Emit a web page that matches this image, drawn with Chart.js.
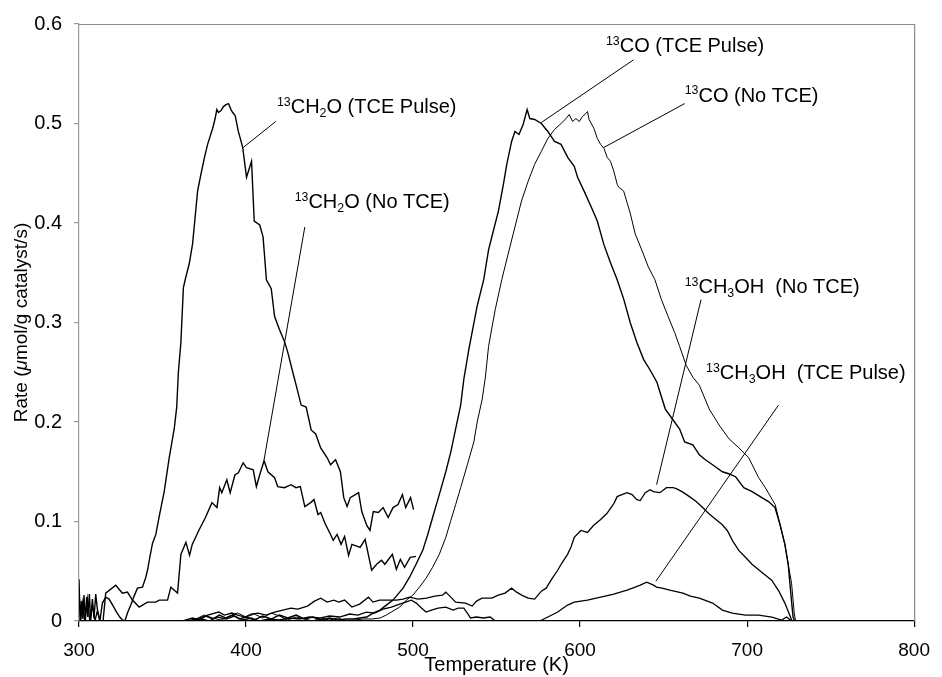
<!DOCTYPE html>
<html>
<head>
<meta charset="utf-8">
<script src="https://cdn.jsdelivr.net/npm/chart.js@4.4.0/dist/chart.umd.min.js"></script>
<style>
  html, body { margin: 0; padding: 0; background: #fff; }
</style>
</head>
<body>
<canvas id="rates" width="942" height="677"></canvas>
<script>
// temperature (K), rate (umol/g catalyst/s)
const ch2oPulse = [
  [300,0.042],[300.7,0],[301.5,0.02],[302.3,0.002],[303,0.026],[303.8,0],[304.6,0.024],[305.3,0.004],
  [306.2,0.027],[307,0],[308,0.022],[309,0.003],[310,0.027],[311,0.012],[312.5,0],[314,0.018],
  [316,0.024],[318,0.022],[320.5,0.015],[322.5,0.009],[324.4,0.004],[326,0.001],[327.5,0],
  [329,0.008],[331,0.016],[333,0.025],[335,0.033],[338,0.034],[340,0.044],[341,0.051],[342.5,0.065],
  [344,0.078],[346,0.087],[348,0.105],[351,0.13],[354,0.164],[357,0.193],[358.5,0.215],[359.5,0.25],
  [361,0.28],[362.5,0.335],[364,0.346],[366,0.359],[368,0.379],[371,0.432],[373,0.449],[375,0.465],
  [377,0.479],[380,0.495],[381.5,0.505],[382.5,0.514],[383.5,0.511],[385,0.513],[386.5,0.517],
  [388,0.519],[389.5,0.52],[391,0.514],[392,0.511],[393.5,0.508],[395.4,0.492],[398,0.476],
  [400.3,0.446],[403.3,0.462],[404.9,0.402],[408.2,0.398],[410.2,0.386],[412.2,0.343],[415.1,0.334],
  [417.1,0.306],[420,0.293],[423,0.281],[425,0.27],[428,0.25],[430,0.237],[433,0.217],[436,0.215],
  [439,0.192],[441.7,0.188],[444.7,0.174],[448.6,0.164],[450.6,0.157],[453.6,0.162],[456.5,0.15],
  [458.5,0.124],[460.5,0.115],[462.4,0.124],[467.4,0.129],[469.3,0.11],[472.3,0.096],[474.2,0.091],
  [476.2,0.11],[479.2,0.109],[482.1,0.114],[485.1,0.104],[488,0.114],[491,0.117],[493.6,0.127],
  [495.6,0.114],[498.5,0.124],[500.3,0.112]
];
const ch2oNoTce = [
  [300,0.03],[301,0],[302,0.018],[303.5,0],[305,0.022],[306.5,0],[308,0.016],[309.5,0],[311,0.01],
  [312.5,0],[314.4,0],[316,0.028],[322,0.036],[326,0.028],[329,0.029],[332,0.021],[336,0.014],
  [341,0.019],[346,0.019],[348,0.021],[353,0.021],[355,0.034],[359,0.028],[361,0.067],[364,0.079],
  [366.2,0.066],[367.8,0.077],[371.7,0.091],[375.7,0.104],[379.6,0.119],[382.6,0.114],[384.2,0.134],
  [385.5,0.129],[388.5,0.142],[390.5,0.129],[393.4,0.147],[395.4,0.149],[398.3,0.159],[400.3,0.154],
  [404.3,0.152],[406.2,0.135],[408.2,0.147],[410.8,0.161],[413.1,0.15],[417.1,0.144],[419,0.135],
  [423,0.134],[426.9,0.137],[429.9,0.134],[432.5,0.135],[435.2,0.115],[438.7,0.119],[440.7,0.122],
  [443.1,0.107],[444.7,0.109],[447.6,0.097],[450.6,0.087],[452.2,0.081],[454.5,0.087],[456.9,0.077],
  [459,0.085],[461.4,0.066],[463.4,0.077],[468.3,0.074],[471.3,0.082],[475.2,0.051],[478.2,0.057],
  [481.1,0.061],[483.1,0.057],[487.6,0.067],[490,0.052],[492.4,0.062],[494.9,0.054],[498.3,0.064],
  [501.8,0.065]
];
const coPulse = [
  [362,0],[368,0.003],[372,0.001],[376,0.005],[380,0.002],[384,0.006],[388,0.003],[392,0.006],
  [396,0.002],[400,0.004],[405,0.001],[410,0.005],[415,0.002],[420,0.006],[425,0.003],[430,0.006],
  [435,0.002],[440,0.004],[445,0.001],[450,0.003],[455,0.001],[460,0.002],[464.4,0.002],[468,0.003],
  [472.3,0.004],[476,0.008],[480.2,0.011],[484,0.016],[488,0.021],[491,0.027],[494,0.033],
  [497.9,0.044],[501.8,0.057],[505.8,0.071],[508.8,0.087],[511.7,0.104],[515.7,0.127],[519.6,0.15],
  [522.6,0.17],[525.5,0.193],[528.5,0.217],[530.4,0.243],[533.4,0.273],[538.3,0.316],[542.3,0.343],
  [545.2,0.373],[548.2,0.393],[551.1,0.412],[554.1,0.439],[556.1,0.459],[559,0.482],[561,0.492],
  [563.4,0.489],[565.9,0.499],[568.3,0.514],[569.9,0.505],[572.8,0.504],[576.8,0.5],[580.7,0.492],
  [584.7,0.482],[588.6,0.479],[592.6,0.466],[596.5,0.457],[598.5,0.446],[602.4,0.432],[606.4,0.417],
  [610.3,0.402],[614.3,0.378],[618.2,0.36],[622.2,0.343],[626.2,0.323],[630,0.3],[634,0.28],
  [638,0.263],[642,0.252],[646,0.24],[651,0.213],[655.7,0.202],[659.6,0.193],[662.6,0.18],
  [667.5,0.177],[671.4,0.167],[675,0.162],[679.3,0.157],[685.2,0.15],[689,0.148],[693.1,0.145],
  [698,0.134],[703,0.13],[708.8,0.124],[712.8,0.12],[716.7,0.114],[719.7,0.097],[722.6,0.077],
  [724.6,0.057],[725.6,0.038],[726.6,0.02],[727.5,0.004],[728.5,0]
];
const coNoTce = [
  [364,0],[370,0.002],[375,0.006],[380,0.003],[385,0.001],[390,0.005],[395,0.008],[400,0.004],
  [405,0.007],[410,0.003],[415,0.008],[420,0.005],[425,0.001],[430,0.004],[435,0.002],[440,0],
  [445,0.003],[450,0.001],[455,0.003],[460,0],[465,0.001],[470,0.002],[475,0.002],[480.2,0.003],
  [484,0.006],[488,0.01],[492,0.014],[496,0.021],[499.9,0.026],[503.8,0.034],[507.8,0.043],
  [511.7,0.054],[515.7,0.067],[519.6,0.084],[522.6,0.101],[525.5,0.117],[528.5,0.134],[532.5,0.157],
  [536.4,0.18],[538.4,0.2],[541.4,0.223],[543.3,0.245],[545.2,0.276],[549.2,0.313],[553.1,0.343],
  [558,0.376],[561,0.396],[564.9,0.422],[568.9,0.442],[572.8,0.459],[576.8,0.472],[580.7,0.485],
  [584.7,0.494],[588.6,0.5],[591.6,0.505],[593.5,0.509],[595.5,0.502],[597.5,0.505],[599.5,0.502],
  [601.4,0.507],[603.4,0.51],[604.4,0.512],[605.4,0.504],[608.3,0.495],[610.3,0.485],[612.3,0.479],
  [614.3,0.475],[616.2,0.466],[618.2,0.462],[620.2,0.452],[622.2,0.439],[623.1,0.436],[626.1,0.432],
  [630,0.41],[633,0.389],[636.9,0.373],[640.8,0.356],[644.8,0.343],[648.7,0.323],[652.7,0.306],
  [656.6,0.29],[659.6,0.276],[663.5,0.257],[667.5,0.245],[671.4,0.237],[677.3,0.213],[683.2,0.197],
  [689.2,0.183],[695.1,0.174],[701,0.164],[706.9,0.144],[710.9,0.134],[716.8,0.117],[719.7,0.097],
  [722.6,0.077],[724.6,0.057],[726.6,0.038],[728.2,0.008],[729,0]
];
const ch3ohNoTce = [
  [366,0],[372,0.003],[377,0.006],[383.6,0.009],[387,0.006],[391.5,0.008],[395,0.006],[399.4,0.004],
  [403,0.007],[407.2,0.008],[412,0.006],[417.1,0.009],[422,0.011],[426.9,0.013],[431,0.012],
  [436.8,0.015],[441,0.02],[444.7,0.023],[448.6,0.019],[452.6,0.021],[455.5,0.019],[459,0.021],
  [463.4,0.014],[468,0.017],[473.3,0.024],[476,0.019],[480,0.021],[486,0.021],[490,0.021],[494,0.022],
  [497.9,0.024],[503,0.022],[508,0.023],[513,0.025],[517.6,0.026],[519.6,0.029],[522,0.025],
  [525.5,0.019],[531.4,0.018],[535.4,0.015],[538,0.02],[541.3,0.023],[547.2,0.023],[551,0.026],
  [555.1,0.028],[559,0.033],[562,0.029],[565,0.026],[568.9,0.023],[572.8,0.022],[576.8,0.03],
  [579.7,0.033],[583,0.042],[586.6,0.051],[589,0.058],[592.5,0.067],[594.5,0.074],[596.5,0.084],
  [600.5,0.091],[604.4,0.089],[608,0.096],[612.3,0.102],[616,0.108],[620.2,0.118],[622.2,0.125],
  [625,0.127],[628.1,0.129],[631.1,0.127],[634,0.122],[636,0.121],[639,0.129],[641.9,0.132],
  [643.9,0.13],[647.8,0.129],[651.7,0.134],[655.7,0.134],[657.6,0.133],[661,0.13],[665.5,0.125],
  [669.5,0.12],[673.4,0.114],[677,0.108],[681.3,0.102],[685,0.097],[688.1,0.091],[691.5,0.08],
  [695,0.071],[699,0.064],[702.9,0.057],[708,0.05],[714.7,0.041],[719,0.03],[722.6,0.018],
  [725,0.008],[726.6,0.001],[728,0]
];
const ch3ohPulse = [
  [368,0],[373,0.002],[378,0],[383,0.004],[388,0.002],[393,0.005],[398,0.001],[403,0.003],[408,0],
  [414,0.002],[420,0.001],[426,0.003],[432,0.002],[438,0.004],[444,0.003],[450,0.005],[456,0.004],
  [462,0.007],[467,0.006],[472,0.009],[477,0.008],[482,0.012],[487,0.014],[492,0.017],[495.5,0.019],
  [498.9,0.021],[502,0.018],[505,0.013],[507.8,0.009],[511,0.011],[515,0.013],[519.6,0.014],
  [524,0.011],[527,0.013],[530.4,0.013],[532.5,0.008],[534.4,0.003],[538,0.004],[542,0.003],
  [546.2,0.004],[549.2,0],[575.8,0],[580.7,0.004],[586.6,0.009],[592.5,0.016],[596.5,0.019],
  [604.4,0.021],[612.3,0.024],[620.2,0.027],[628.1,0.031],[633,0.034],[636,0.036],[639.9,0.039],
  [643.9,0.036],[645.8,0.034],[649,0.033],[653.7,0.031],[661.6,0.028],[666,0.025],[671.4,0.023],
  [679.3,0.018],[685.2,0.011],[691.1,0.008],[699,0.006],[706.9,0.006],[714.8,0.004],[720.7,0.001],
  [723.6,0.004],[726.6,0]
];

const xTicks = [300, 400, 500, 600, 700, 800];
const yTicks = [0, 0.1, 0.2, 0.3, 0.4, 0.5, 0.6];

const FONT = '"Liberation Sans", Arial, Helvetica, sans-serif';

// curve labels: text runs, text anchor and leader line, all in data units
const notes = [
  { parts: [['13','sup'],['CH'],['2','sub'],['O (TCE Pulse)']], at: [418.5, 0.5104], from: [417.8, 0.502], to: [398.4, 0.476] },
  { parts: [['13','sup'],['CH'],['2','sub'],['O (No TCE)']], at: [429.1, 0.4151], from: [435.2, 0.396], to: [410.8, 0.162] },
  { parts: [['13','sup'],['CO (TCE Pulse)']], at: [615.5, 0.5717], from: [632, 0.564], to: [576.8, 0.501] },
  { parts: [['13','sup'],['CO (No TCE)']], at: [662.6, 0.522], from: [662.6, 0.52], to: [614.3, 0.476] },
  { parts: [['13','sup'],['CH'],['3','sub'],['OH  (No TCE)']], at: [662.6, 0.3295], from: [672.4, 0.323], to: [645.8, 0.137] },
  { parts: [['13','sup'],['CH'],['3','sub'],['OH  (TCE Pulse)']], at: [675.4, 0.2432], from: [718.8, 0.217], to: [645.4, 0.040] }
];

function drawRich(ctx, parts, x, y, size) {
  parts.forEach(function (p) {
    let s = size, dy = 0;
    if (p[1] === 'sup') { s = size * 0.62; dy = -size * 0.36; }
    if (p[1] === 'sub') { s = size * 0.62; dy = size * 0.2; }
    ctx.font = s + 'px ' + FONT;
    ctx.fillText(p[0], x, y + dy);
    x += ctx.measureText(p[0]).width;
  });
}

const decorations = {
  id: 'decorations',
  afterDatasetsDraw(chart) {
    const ctx = chart.ctx, a = chart.chartArea;
    const xs = chart.scales.x, ys = chart.scales.y;
    ctx.save();

    // frame on top and right
    ctx.strokeStyle = '#8c8c8c';
    ctx.lineWidth = 1.2;
    ctx.beginPath();
    ctx.moveTo(a.left, a.top + 0.5);
    ctx.lineTo(a.right + 0.5, a.top + 0.5);
    ctx.lineTo(a.right + 0.5, a.bottom);
    ctx.stroke();

    // leader lines and labels
    ctx.strokeStyle = '#000';
    ctx.lineWidth = 1;
    ctx.fillStyle = '#000';
    ctx.textBaseline = 'alphabetic';
    ctx.textAlign = 'left';
    notes.forEach(function (n) {
      ctx.beginPath();
      ctx.moveTo(xs.getPixelForValue(n.from[0]), ys.getPixelForValue(n.from[1]));
      ctx.lineTo(xs.getPixelForValue(n.to[0]), ys.getPixelForValue(n.to[1]));
      ctx.stroke();
      drawRich(ctx, n.parts, xs.getPixelForValue(n.at[0]), ys.getPixelForValue(n.at[1]), 20);
    });

    // y axis title with italic mu
    const runs = [['Rate (', 'normal'], ['\u03bc', 'italic'], ['mol/g catalyst/s)', 'normal']];
    let total = 0;
    runs.forEach(function (r) { ctx.font = r[1] + ' 19px ' + FONT; total += ctx.measureText(r[0]).width; });
    ctx.translate(26.5, (a.top + a.bottom) / 2 + total / 2);
    ctx.rotate(-Math.PI / 2);
    let x = 0;
    runs.forEach(function (r) {
      ctx.font = r[1] + ' 19px ' + FONT;
      ctx.fillText(r[0], x, 0);
      x += ctx.measureText(r[0]).width;
    });
    ctx.restore();
  }
};

function series(points, width) {
  return {
    data: points.map(function (p) { return { x: p[0], y: p[1] }; }),
    borderColor: '#000',
    borderWidth: width,
    pointRadius: 0,
    fill: false,
    tension: 0
  };
}

new Chart(document.getElementById('rates'), {
  type: 'line',
  data: {
    datasets: [
      series(ch2oPulse, 1.4),
      series(ch2oNoTce, 1.4),
      series(coPulse, 1.4),
      series(coNoTce, 1.0),
      series(ch3ohNoTce, 1.3),
      series(ch3ohPulse, 1.3)
    ]
  },
  options: {
    responsive: false,
    animation: false,
    devicePixelRatio: 1,
    layout: { padding: { top: 18, right: 18, left: 0, bottom: 0 } },
    plugins: { legend: { display: false }, tooltip: { enabled: false } },
    scales: {
      x: {
        type: 'linear',
        min: 300,
        max: 800,
        afterFit(s) { s.height = 56; },
        afterBuildTicks(s) { s.ticks = xTicks.map(function (v) { return { value: v }; }); },
        ticks: { color: '#000', padding: 12, font: { family: FONT, size: 19 } },
        grid: { drawOnChartArea: false, drawTicks: true, tickLength: 6, color: '#000', lineWidth: 1.2 },
        border: { color: '#000', width: 1.3 },
        title: { display: true, text: 'Temperature (K)', color: '#000', padding: 0, font: { family: FONT, size: 20, lineHeight: 1.2 } }
      },
      y: {
        min: 0,
        max: 0.6,
        afterFit(s) { s.width = 79; },
        afterBuildTicks(s) { s.ticks = yTicks.map(function (v) { return { value: v }; }); },
        ticks: {
          color: '#000',
          padding: 12,
          font: { family: FONT, size: 20 },
          callback: function (v) { return v === 0 ? '0' : v.toFixed(1); }
        },
        grid: { drawOnChartArea: false, drawTicks: true, tickLength: 5, color: '#999', lineWidth: 1.2 },
        border: { color: '#999', width: 1.2 }
      }
    }
  },
  plugins: [decorations]
});
</script>
</body>
</html>
